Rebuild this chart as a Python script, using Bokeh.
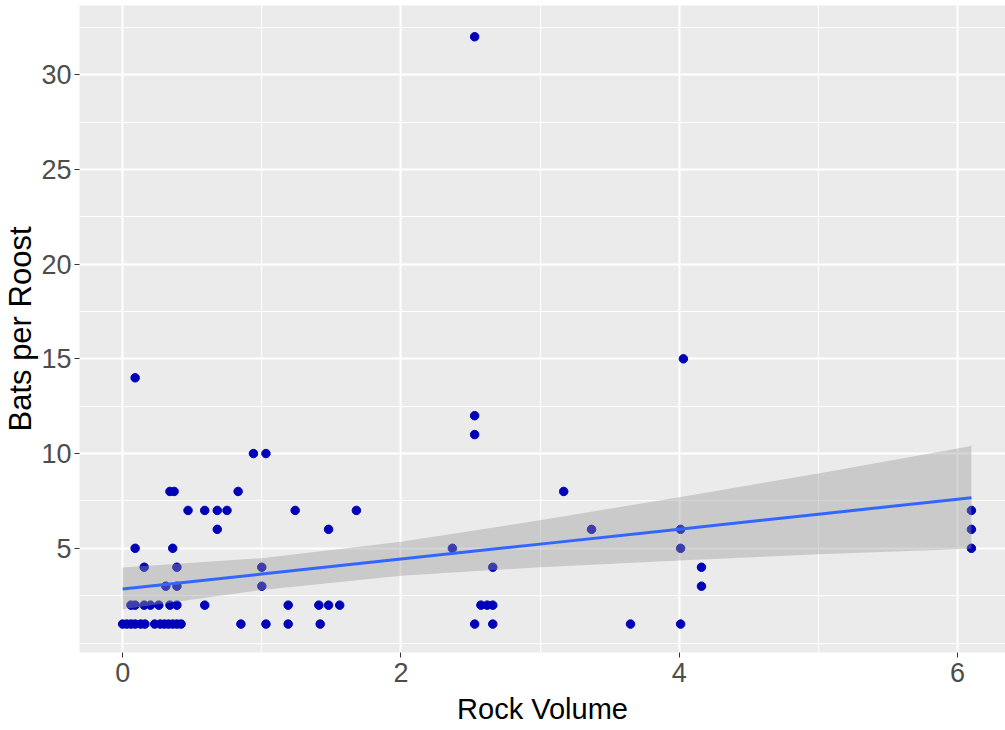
from bokeh.plotting import figure
from bokeh.models import Range1d, FixedTicker
from bokeh.embed import file_html
from bokeh.resources import INLINE

# Roost observations: rock volume vs. number of bats found in the roost
rock_volume = [
    0.00, 0.03, 0.06, 0.09, 0.13, 0.16, 0.23, 0.27, 0.30, 0.33, 0.36, 0.39, 0.42,
    0.85, 1.03, 1.19, 1.42, 2.53, 2.66, 3.65, 4.01,
    0.06, 0.09, 0.155, 0.20, 0.26, 0.34, 0.39, 0.59, 1.19, 1.41, 1.48, 1.56,
    2.575, 2.62, 2.66,
    0.31, 0.39, 1.00, 4.16,
    0.155, 0.39, 1.00, 2.66, 4.16,
    0.09, 0.36, 2.37, 4.01, 6.10,
    0.68, 1.48, 3.37, 4.01, 6.10,
    0.47, 0.59, 0.68, 0.75, 1.24, 1.68, 6.10,
    0.34, 0.37, 0.83, 3.17,
    0.94, 1.03,
    2.53, 2.53, 0.09, 4.03, 2.53,
]
bats_per_roost = [
    1, 1, 1, 1, 1, 1, 1, 1, 1, 1, 1, 1, 1,
    1, 1, 1, 1, 1, 1, 1, 1,
    2, 2, 2, 2, 2, 2, 2, 2, 2, 2, 2, 2,
    2, 2, 2,
    3, 3, 3, 3,
    4, 4, 4, 4, 4,
    5, 5, 5, 5, 5,
    6, 6, 6, 6, 6,
    7, 7, 7, 7, 7, 7, 7,
    8, 8, 8, 8,
    10, 10,
    11, 12, 14, 15, 32,
]

# Linear smoother (lm) with its 95% confidence band
smooth_x = [0.0, 1.0, 2.0, 3.0, 4.0, 5.0, 6.1]
smooth_fit = [2.85, 3.64, 4.43, 5.22, 6.01, 6.80, 7.67]
smooth_lower = [1.78, 2.80, 3.55, 4.00, 4.36, 4.68, 4.98]
smooth_upper = [3.98, 4.48, 5.35, 6.48, 7.70, 8.95, 10.40]

x_ticks = [0, 2, 4, 6]
x_minor = [1, 3, 5]
y_ticks = [5, 10, 15, 20, 25, 30]
y_minor = [0, 2.5, 7.5, 12.5, 17.5, 22.5, 27.5, 32.5]

p = figure(
    width=1005, height=730,
    x_range=Range1d(-0.31, 6.345), y_range=Range1d(-0.5, 33.65),
    output_backend="svg", toolbar_location=None,
    background_fill_color="#EBEBEB", border_fill_color="white",
    min_border_left=76, min_border_right=0, min_border_top=5, min_border_bottom=78,
)
p.outline_line_color = None

p.xgrid.ticker = FixedTicker(ticks=x_ticks, minor_ticks=x_minor)
p.ygrid.ticker = FixedTicker(ticks=y_ticks, minor_ticks=y_minor)
for g in (p.xgrid, p.ygrid):
    g.grid_line_color = "white"
    g.grid_line_width = 2
    g.minor_grid_line_color = "white"
    g.minor_grid_line_width = 1

p.xaxis.ticker = FixedTicker(ticks=x_ticks)
p.yaxis.ticker = FixedTicker(ticks=y_ticks)
for ax in (p.xaxis, p.yaxis):
    ax.axis_line_color = None
    ax.minor_tick_line_color = None
    ax.major_tick_line_color = "#333333"
    ax.major_tick_line_width = 1
    ax.major_tick_in = 0
    ax.major_tick_out = 5
    ax.major_label_text_font = "Liberation Sans"
    ax.major_label_text_font_size = "27px"
    ax.major_label_text_color = "#4D4D4D"
    ax.axis_label_text_font = "Liberation Sans"
    ax.axis_label_text_color = "black"
    ax.axis_label_text_font_style = "normal"

p.xaxis.axis_label = "Rock Volume"
p.xaxis.axis_label_text_font_size = "29px"
p.xaxis.major_label_standoff = 5
p.xaxis.axis_label_standoff = 8

p.yaxis.axis_label = "Bats per Roost"
p.yaxis.axis_label_text_font_size = "31px"
p.yaxis.major_label_standoff = 3
p.yaxis.axis_label_standoff = 0

p.scatter(rock_volume, bats_per_roost, size=8.5, color="#0000B8")
p.varea(x=smooth_x, y1=smooth_lower, y2=smooth_upper,
        fill_color="#999999", fill_alpha=0.4)
p.line(smooth_x, smooth_fit, line_color="#3366FF", line_width=3)

open("out.html", "w").write(file_html(p, INLINE))
